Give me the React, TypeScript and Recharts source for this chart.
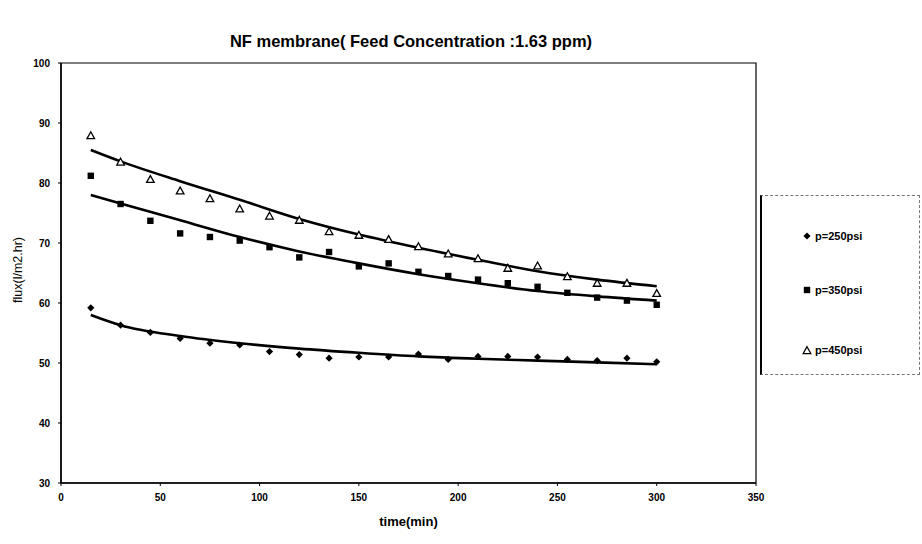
import React from "react";
import {
  ComposedChart,
  Line,
  Scatter,
  XAxis,
  YAxis,
  ReferenceArea,
  Label,
} from "recharts";

const times = [15, 30, 45, 60, 75, 90, 105, 120, 135, 150, 165, 180, 195, 210, 225, 240, 255, 270, 285, 300];
const flux250 = [59.2, 56.3, 55.1, 54.1, 53.3, 53.0, 51.9, 51.4, 50.8, 51.0, 51.0, 51.5, 50.6, 51.1, 51.1, 51.0, 50.6, 50.4, 50.8, 50.2];
const flux350 = [81.2, 76.5, 73.7, 71.6, 71.0, 70.4, 69.3, 67.6, 68.5, 66.1, 66.6, 65.2, 64.5, 63.9, 63.3, 62.7, 61.7, 60.9, 60.4, 59.7];
const flux450 = [87.9, 83.5, 80.6, 78.7, 77.4, 75.7, 74.5, 73.8, 71.9, 71.3, 70.6, 69.4, 68.2, 67.4, 65.8, 66.2, 64.4, 63.3, 63.3, 61.6];

const fitTimes = [15, 30, 60, 90, 120, 150, 180, 210, 240, 270, 300];
const fit250 = [58.0, 56.3, 54.5, 53.3, 52.4, 51.7, 51.1, 50.7, 50.4, 50.1, 49.8];
const fit350 = [78.0, 76.6, 73.8, 71.0, 68.6, 66.6, 64.8, 63.3, 62.0, 61.1, 60.4];
const fit450 = [85.5, 83.6, 80.3, 77.2, 74.0, 71.4, 69.2, 67.2, 65.3, 63.9, 62.8];

const xTicks = [0, 50, 100, 150, 200, 250, 300, 350];
const yTicks = [30, 40, 50, 60, 70, 80, 90, 100];
const seriesNames = ["p=250psi", "p=350psi", "p=450psi"];

const toPts = (vals: number[], ts: number[]) => ts.map((t, i) => ({ t, y: vals[i] }));

const pts250 = toPts(flux250, times);
const pts350 = toPts(flux350, times);
const pts450 = toPts(flux450, times);
const line250 = toPts(fit250, fitTimes);
const line350 = toPts(fit350, fitTimes);
const line450 = toPts(fit450, fitTimes);

const FONT = "'Liberation Sans', Arial, sans-serif";

const Diamond = (p: any) => {
  const { cx, cy } = p;
  const r = 3.6;
  return <path d={`M${cx},${cy - r}L${cx + r},${cy}L${cx},${cy + r}L${cx - r},${cy}Z`} fill="#000" />;
};
const Square = (p: any) => {
  const { cx, cy } = p;
  const r = 3.2;
  return <rect x={cx - r} y={cy - r} width={2 * r} height={2 * r} fill="#000" />;
};
const Triangle = (p: any) => {
  const { cx, cy } = p;
  const r = 3.8;
  return (
    <path
      d={`M${cx},${cy - r}L${cx + r},${cy + r * 0.8}L${cx - r},${cy + r * 0.8}Z`}
      fill="#fff"
      stroke="#000"
      strokeWidth={1.3}
    />
  );
};

const LegendMarker = ({ kind }: { kind: number }) => (
  <svg width={10} height={10} style={{ marginRight: 3 }}>
    {kind === 0 && <Diamond cx={5} cy={5} />}
    {kind === 1 && <Square cx={5} cy={5} />}
    {kind === 2 && <Triangle cx={5} cy={5.5} />}
  </svg>
);

const legendTops = [34, 88, 148];

export default function App() {
  return (
    <div style={{ position: "absolute", left: 0, top: 0, width: 922, height: 544, background: "#fff" }}>
      <div
        style={{
          position: "absolute",
          left: 0,
          top: 32,
          width: 822,
          textAlign: "center",
          fontFamily: FONT,
          fontWeight: "bold",
          fontSize: 16.5,
          color: "#000",
        }}
      >
        NF membrane( Feed Concentration :1.63 ppm)
      </div>
      <ComposedChart
        width={922}
        height={544}
        margin={{ top: 63, right: 166, bottom: 21, left: 31 }}
        style={{ position: "absolute", left: 0, top: 0 }}
      >
        <XAxis
          dataKey="t"
          type="number"
          domain={[0, 350]}
          ticks={xTicks}
          allowDataOverflow
          height={40}
          tickSize={3}
          tickMargin={8}
          axisLine={{ stroke: "#000", strokeWidth: 1.5 }}
          tickLine={{ stroke: "#000" }}
          tick={{ fill: "#000", fontSize: 10, fontFamily: FONT, fontWeight: "bold" }}
        >
          <Label
            value="time(min)"
            position="insideBottom"
            offset={-3}
            style={{ fill: "#000", fontSize: 13, fontFamily: FONT, fontWeight: "bold" }}
          />
        </XAxis>
        <YAxis
          type="number"
          domain={[30, 100]}
          ticks={yTicks}
          allowDataOverflow
          width={30}
          tickSize={3}
          tickMargin={8}
          axisLine={{ stroke: "#000", strokeWidth: 1.5 }}
          tickLine={{ stroke: "#000" }}
          tick={{ fill: "#000", fontSize: 10, fontFamily: FONT, fontWeight: "bold" }}
        />
        <ReferenceArea x1={0} x2={350} y1={30} y2={100} fill="none" stroke="#000" strokeWidth={1.2} ifOverflow="visible" />
        <Line data={line450} dataKey="y" type="monotone" stroke="#000" strokeWidth={2.6} dot={false} isAnimationActive={false} />
        <Line data={line350} dataKey="y" type="monotone" stroke="#000" strokeWidth={2.6} dot={false} isAnimationActive={false} />
        <Line data={line250} dataKey="y" type="monotone" stroke="#000" strokeWidth={2.6} dot={false} isAnimationActive={false} />
        <Scatter data={pts250} dataKey="y" shape={Diamond} isAnimationActive={false} />
        <Scatter data={pts350} dataKey="y" shape={Square} isAnimationActive={false} />
        <Scatter data={pts450} dataKey="y" shape={Triangle} isAnimationActive={false} />
      </ComposedChart>
      <svg width={30} height={544} style={{ position: "absolute", left: 0, top: 0 }}>
        <text
          x={22}
          y={270}
          transform="rotate(-90 22 270)"
          textAnchor="middle"
          style={{ fill: "#000", fontSize: 12.5, fontFamily: FONT }}
        >
          flux(l/m2.hr)
        </text>
      </svg>
      <div
        style={{
          position: "absolute",
          left: 760,
          top: 195,
          width: 160,
          height: 180,
          borderLeft: "2px solid #000",
          borderTop: "1px dashed #777",
          borderRight: "1px dashed #777",
          borderBottom: "1px dashed #777",
          boxSizing: "border-box",
          fontFamily: FONT,
          fontWeight: "bold",
          fontSize: 11,
          color: "#000",
        }}
      >
        {seriesNames.map((n, i) => (
          <div
            key={n}
            style={{
              position: "absolute",
              left: 40,
              top: legendTops[i],
              display: "flex",
              alignItems: "center",
              whiteSpace: "nowrap",
            }}
          >
            <LegendMarker kind={i} />
            {n}
          </div>
        ))}
      </div>
    </div>
  );
}
